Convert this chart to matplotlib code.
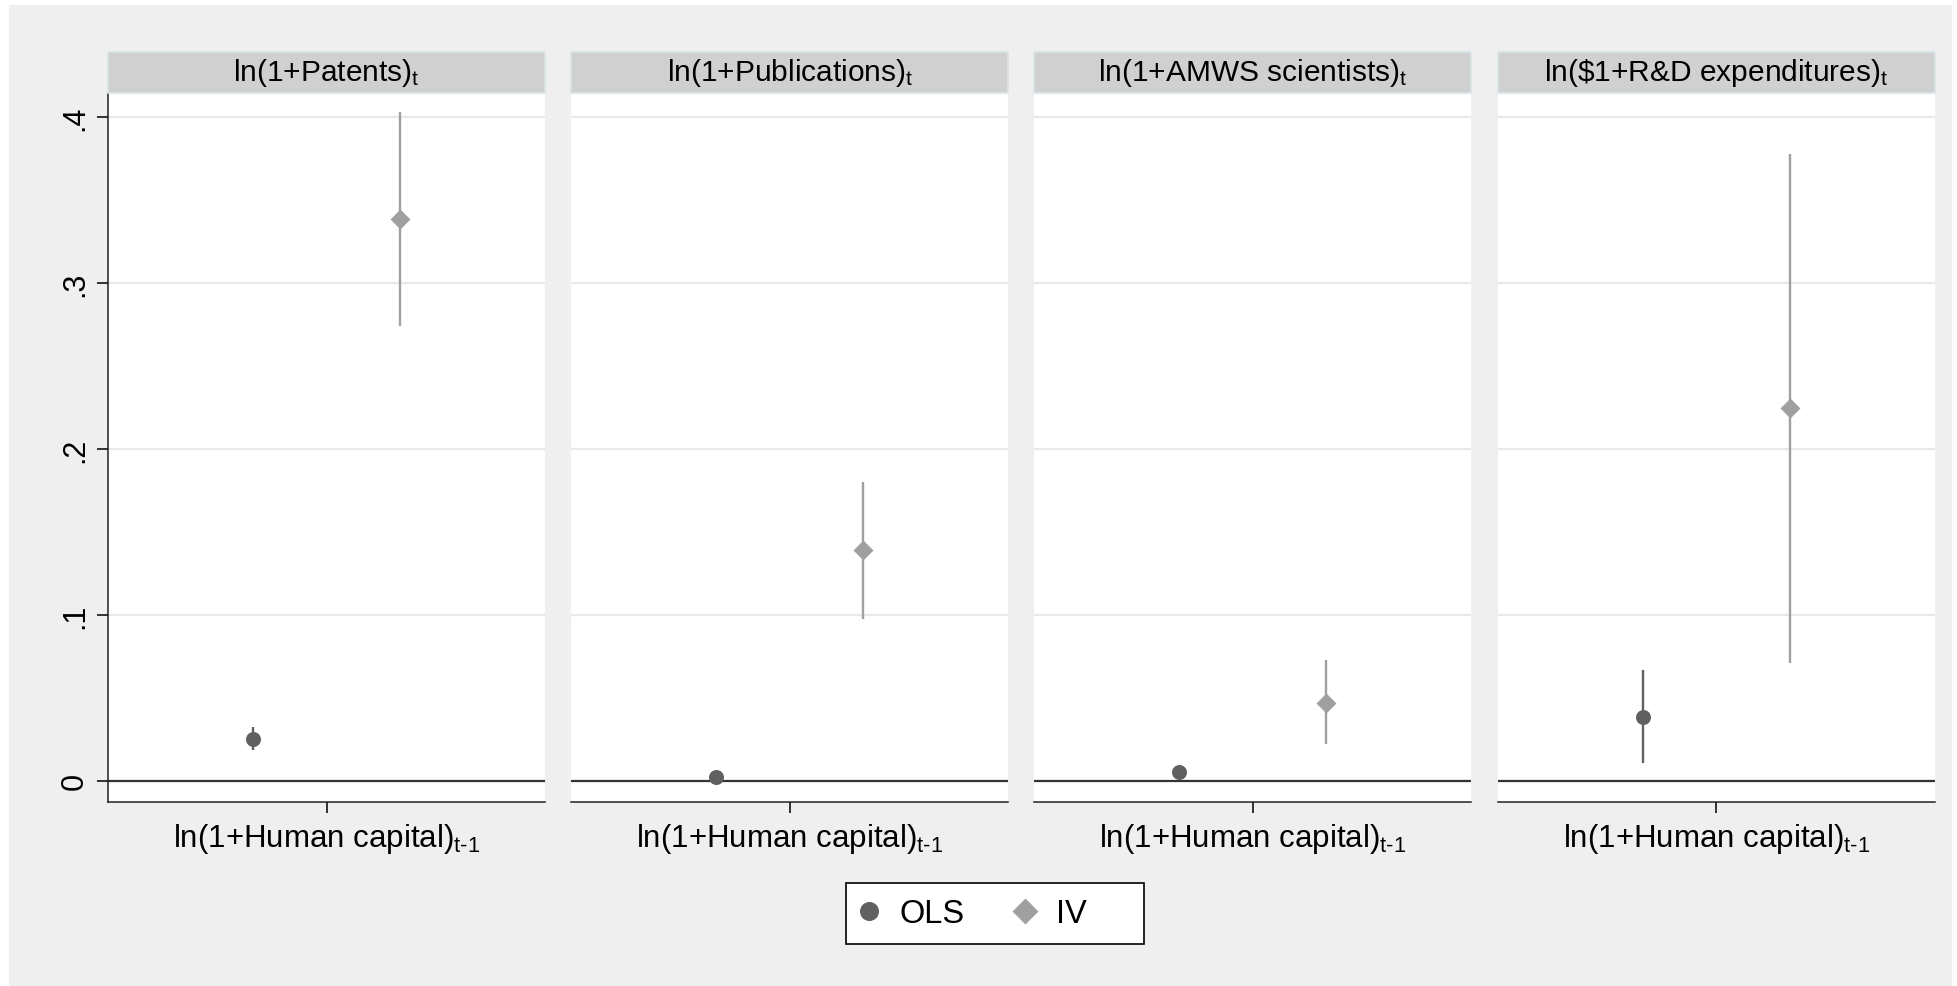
import matplotlib.pyplot as plt
from matplotlib.lines import Line2D
from matplotlib.patches import Rectangle

plt.rcParams['font.family'] = 'Liberation Sans'
plt.rcParams['mathtext.fontset'] = 'custom'
plt.rcParams['mathtext.rm'] = 'Liberation Sans'
plt.rcParams['mathtext.it'] = 'Liberation Sans'
plt.rcParams['mathtext.default'] = 'regular'

# data
outcomes = [r'ln(1+Patents)$_{\text{t}}$',
            r'ln(1+Publications)$_{\text{t}}$',
            r'ln(1+AMWS scientists)$_{\text{t}}$',
            r'ln(\$1+R&D expenditures)$_{\text{t}}$']
regressor = r'ln(1+Human capital)$_{\text{t-1}}$'
ols_coef = [0.0255, 0.0026, 0.0054, 0.0387]
ols_lo = [0.0189, 0.0010, 0.0032, 0.0108]
ols_hi = [0.0323, 0.0042, 0.0076, 0.0667]
iv_coef = [0.3384, 0.1390, 0.0472, 0.2245]
iv_lo = [0.2739, 0.0976, 0.0221, 0.0710]
iv_hi = [0.4028, 0.1803, 0.0727, 0.3777]
yticks = [0, 0.1, 0.2, 0.3, 0.4]
ytick_labels = ['0', '.1', '.2', '.3', '.4']
series = ['OLS', 'IV']

W, H = 1957, 987
ols_color = '#606060'
iv_color = '#a0a0a0'

fig = plt.figure(figsize=(W / 100, H / 100), dpi=100, facecolor='white')
# stata-ish gray graph region
fig.patches.append(Rectangle((9 / W, 0), (1952 - 9) / W, (987 - 6) / H,
                             transform=fig.transFigure, facecolor='#efefef',
                             edgecolor='none', zorder=-10))

for i in range(4):
    left = (108 + i * 463.2) / W
    ax = fig.add_axes([left, 1 - 803 / H, 437 / W, (803 - 94) / H])
    ax.set_facecolor('white')

    # confidence intervals + point estimates
    ax.vlines(1 - 0.168, ols_lo[i], ols_hi[i], color=ols_color, lw=1.7, zorder=3)
    ax.plot(1 - 0.168, ols_coef[i], 'o', color=ols_color, ms=10.8, mec='none', zorder=4)
    ax.vlines(1 + 0.168, iv_lo[i], iv_hi[i], color=iv_color, lw=1.7, zorder=3)
    ax.plot(1 + 0.168, iv_coef[i], 'D', color=iv_color, ms=10, mec='none', zorder=4)

    ax.axhline(0, color='#333333', lw=1.6, zorder=2)
    ax.set_xlim(0.5, 1.5)
    ax.set_ylim(-0.0127, 0.4145)
    ax.set_yticks(yticks)
    ax.grid(axis='y', color='#e8e8e8', lw=1.5, zorder=0)
    ax.set_axisbelow(True)

    ax.set_xticks([1])
    ax.set_xticklabels([regressor], fontsize=22.5)
    ax.tick_params(axis='x', length=8, width=1.1, color='black', pad=6)

    for s in ['top', 'right']:
        ax.spines[s].set_visible(False)
    ax.spines['bottom'].set_color('#222222')
    ax.spines['bottom'].set_linewidth(1.1)
    if i == 0:
        ax.set_yticklabels(ytick_labels, rotation=90, va='center', fontsize=22)
        ax.tick_params(axis='y', length=8, width=1.1, color='black', pad=5)
        ax.spines['left'].set_color('#222222')
        ax.spines['left'].set_linewidth(1.1)
    else:
        ax.spines['left'].set_visible(False)
        ax.tick_params(axis='y', length=0, labelleft=False)

    # facet strip
    strip_h = 41 / (803 - 94)
    ax.add_patch(Rectangle((0, 1), 1, strip_h, transform=ax.transAxes,
                           facecolor='#d0d0d0', edgecolor='#d9e5e8', lw=1.2,
                           clip_on=False, zorder=5))
    ax.text(0.5, 1 + strip_h / 2, outcomes[i], transform=ax.transAxes,
            ha='center', va='center', fontsize=21.5, zorder=6)

# legend box
fig.patches.append(Rectangle((846 / W, 1 - 945 / H), 298 / W, 61 / H,
                             transform=fig.transFigure, facecolor='white',
                             edgecolor='black', lw=1.2, zorder=1))
handles = [Line2D([], [], ls='none', marker='o', color=ols_color, mec='none', ms=13.7),
           Line2D([], [], ls='none', marker='D', color=iv_color, mec='none', ms=13)]
fig.legend(handles, series, loc='center left', bbox_to_anchor=(846 / W, 1 - 914.5 / H),
           ncol=2, frameon=False, fontsize=23.5, handlelength=0.9, handletextpad=0.5,
           columnspacing=1.4, borderpad=0, borderaxespad=0.25)

fig.savefig('out.png', dpi=100, facecolor=fig.get_facecolor())
